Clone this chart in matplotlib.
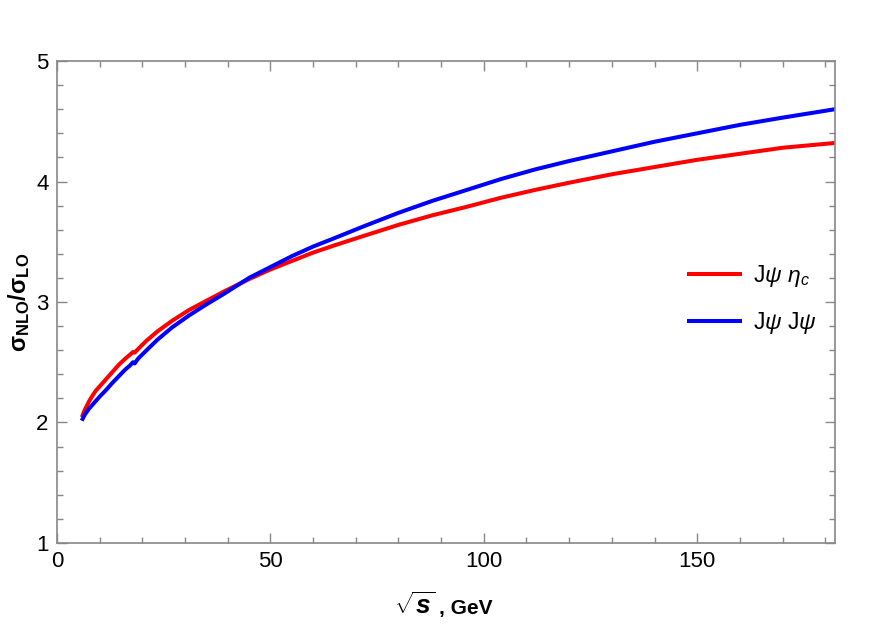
import matplotlib
matplotlib.use("Agg")
import matplotlib.pyplot as plt
from matplotlib.ticker import MultipleLocator

plt.rcParams['font.family'] = ['Liberation Sans', 'DejaVu Sans']
plt.rcParams['mathtext.fontset'] = 'custom'
plt.rcParams['mathtext.rm'] = 'Liberation Sans'
plt.rcParams['mathtext.it'] = 'Liberation Sans:italic'
plt.rcParams['mathtext.bf'] = 'Liberation Sans:bold'
plt.rcParams['mathtext.bfit'] = 'Liberation Sans:italic:bold'

# sqrt(s) in GeV, ratio sigma_NLO / sigma_LO
x_eta = [6.0, 6.5, 7.0, 7.5, 8.0, 9.0, 10.0, 11.5, 13.0, 14.5, 16.0, 17.0, 17.8, 18.2,
         19.0, 21.0, 23.5, 27.0, 31.0, 35.0, 39.0, 45.0, 50.0, 55.0, 60.0, 65.0,
         72.0, 80.0, 88.0, 96.0, 104.0, 112.0, 120.0, 130.0, 140.0, 150.0, 160.0,
         170.0, 182.3]
y_eta = [2.06, 2.105, 2.14, 2.175, 2.205, 2.26, 2.30, 2.36, 2.42, 2.48, 2.53, 2.56, 2.585, 2.58,
         2.61, 2.68, 2.755, 2.845, 2.935, 3.01, 3.085, 3.19, 3.27, 3.34, 3.41, 3.47,
         3.55, 3.64, 3.72, 3.79, 3.865, 3.93, 3.99, 4.06, 4.12, 4.18, 4.23,
         4.28, 4.32]

x_psi = [6.0, 6.5, 7.0, 7.5, 8.0, 9.0, 10.0, 11.5, 13.0, 14.5, 16.0, 17.0, 17.8, 18.2,
         19.0, 21.0, 23.5, 27.0, 31.0, 35.0, 39.0, 45.0, 50.0, 55.0, 60.0, 65.0,
         72.0, 80.0, 88.0, 96.0, 104.0, 112.0, 120.0, 130.0, 140.0, 150.0, 160.0,
         170.0, 182.3]
y_psi = [2.03, 2.065, 2.09, 2.115, 2.135, 2.175, 2.215, 2.27, 2.33, 2.385, 2.44, 2.47, 2.50, 2.49,
         2.53, 2.60, 2.686, 2.79, 2.89, 2.98, 3.065, 3.20, 3.29, 3.38, 3.46, 3.53,
         3.63, 3.74, 3.84, 3.93, 4.02, 4.10, 4.17, 4.25, 4.33, 4.40, 4.47,
         4.53, 4.60]

labels = [r"J$\psi$ $\eta_c$", r"J$\psi$ J$\psi$"]

fig = plt.figure(figsize=(8.72, 6.31), dpi=100)
ax = fig.add_axes([0.0654, 0.1395, 0.8922, 0.7638])

ax.plot(x_eta, y_eta, color=(1, 0, 0), lw=2.9, label=labels[0])
ax.plot(x_psi, y_psi, color=(0, 0, 1), lw=2.9, label=labels[1])

ax.set_xlim(0, 182.3)
ax.set_ylim(1, 5)
ax.xaxis.set_major_locator(MultipleLocator(50))
ax.xaxis.set_minor_locator(MultipleLocator(10))
ax.yaxis.set_major_locator(MultipleLocator(1))
ax.yaxis.set_minor_locator(MultipleLocator(0.2))

ax.tick_params(which='both', direction='in', top=True, right=True,
               color='#888888', width=1.0, labelsize=16, pad=6)
ax.tick_params(which='major', length=7)
ax.tick_params(which='minor', length=4)
for s in ax.spines.values():
    s.set_color('#888888')
    s.set_linewidth(1.2)

# x label: big radical plus bold ", GeV"
fig.text(0.499, 0.027, r"$\sqrt{\mathbfit{s}}$", fontsize=19, ha='right', va='baseline')
fig.text(0.503, 0.027, ", GeV", fontsize=15, fontweight='bold', va='baseline')
ax.set_ylabel(r"$\mathbf{\sigma_{NLO}/\sigma_{LO}}$", fontsize=17, labelpad=3)

ax.legend(loc='center left', bbox_to_anchor=(0.786, 0.505), frameon=False,
          fontsize=16.5, handlelength=2.2, handletextpad=0.6, labelspacing=0.95)

plt.savefig("out.png", dpi=100)
